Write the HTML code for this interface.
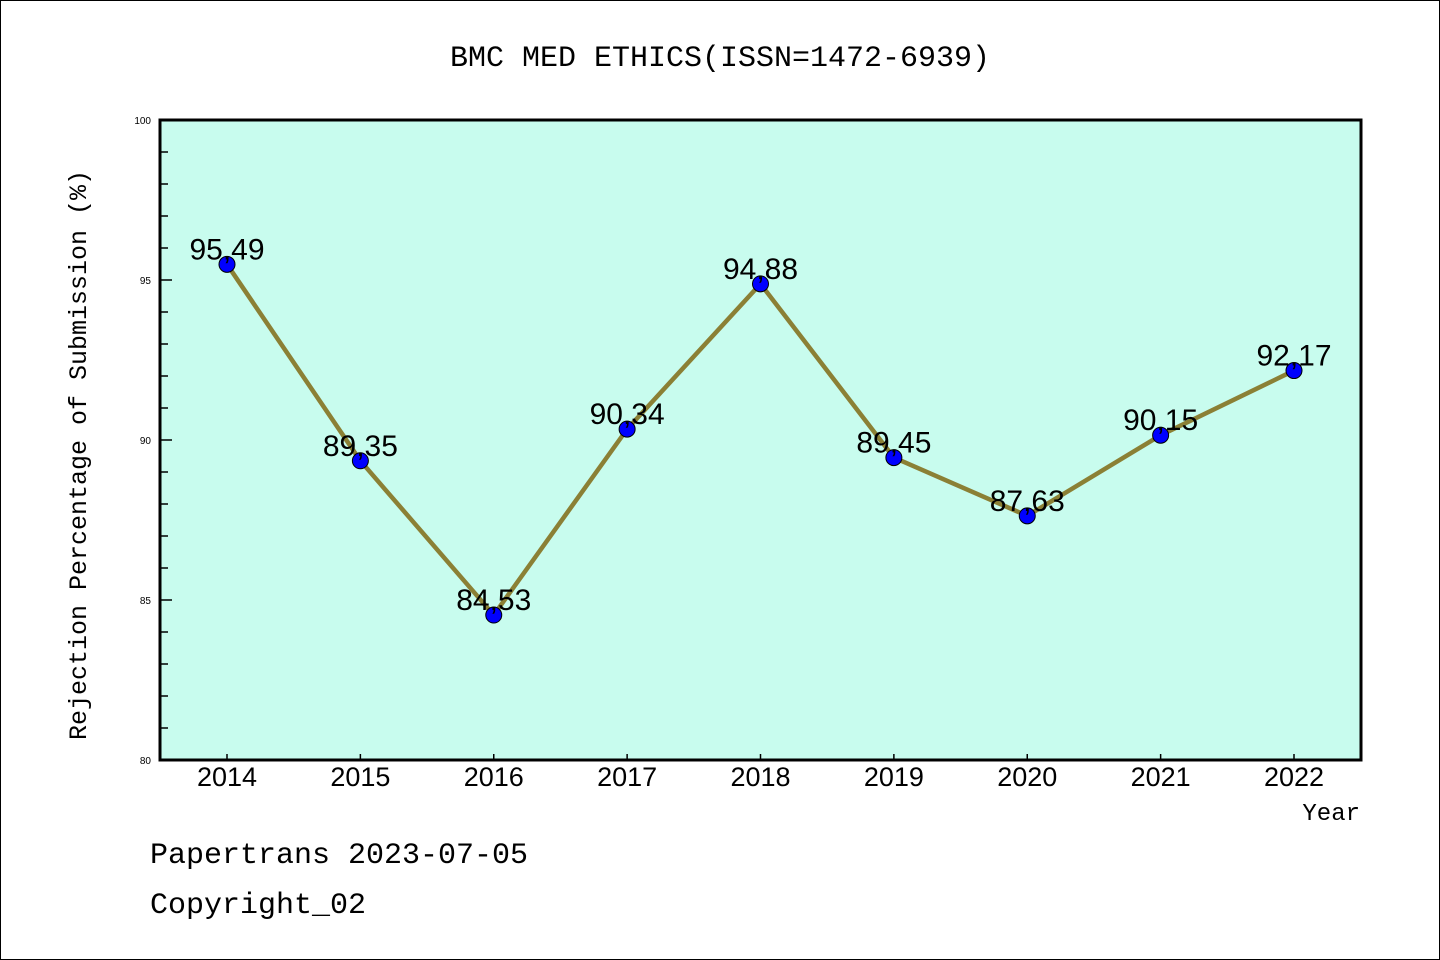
<!DOCTYPE html>
<html><head><meta charset="utf-8"><style>
html,body{margin:0;padding:0;background:#fff}
svg{display:block;font-family:"Liberation Mono","DejaVu Sans Mono",monospace}
</style></head><body>
<svg id="c" width="1440" height="960" xmlns="http://www.w3.org/2000/svg">
<rect x="0.5" y="0.5" width="1439" height="959" fill="#fff" stroke="#000"/>
<text x="720" y="66" text-anchor="middle" font-size="30">BMC MED ETHICS(ISSN=1472-6939)</text>
<rect x="160" y="120" width="1201" height="640" fill="#c8fcee"/>
<g id="axes"></g>
<g id="series"></g>
<rect x="160" y="120" width="1201" height="640" fill="none" stroke="#000" stroke-width="3"/>
<text x="86" y="455" transform="rotate(-90 86 455)" text-anchor="middle" font-size="25">Rejection Percentage of Submission (%)</text>
<text x="1360" y="820" text-anchor="end" font-size="24">Year</text>
<text x="150" y="863" font-size="30">Papertrans 2023-07-05</text>
<text x="150" y="913" font-size="30">Copyright_02</text>
</svg>
<script>
const years=["2014","2015","2016","2017","2018","2019","2020","2021","2022"];
const rates=[95.49,89.35,84.53,90.34,94.88,89.45,87.63,90.15,92.17];
const yTicks=[80,85,90,95,100];
const NS="http://www.w3.org/2000/svg";
const yMin=80,yMax=100,plotTop=120,plotBot=760;
function ys(v){return plotBot-(v-yMin)/(yMax-yMin)*(plotBot-plotTop);}
const x0=227,x1=1294;
function xs(i){return x0+i*(x1-x0)/(years.length-1);}
function mk(t,a,p){const e=document.createElementNS(NS,t);for(const k in a)e.setAttribute(k,a[k]);p.appendChild(e);return e;}
const ax=document.getElementById('axes'),sg=document.getElementById('series');
for(let v=yMin;v<=yMax;v++){
  const major=yTicks.includes(v);
  const l=mk('line',{x1:160,x2:major?172:168,y1:ys(v),y2:ys(v),stroke:'#000','stroke-width':1.5},ax);
  
  
}
yTicks.forEach(v=>{
  const t=mk('text',{x:151,y:ys(v)+4,'text-anchor':'end','font-size':10,'font-family':'Liberation Sans, sans-serif'},ax);
  t.textContent=v;
  
  
});
years.forEach((y,i)=>{
  const l=mk('line',{x1:xs(i),x2:xs(i),y1:760,y2:754,stroke:'#000','stroke-width':1.5},ax);
  
  
  const t=mk('text',{x:xs(i),y:786,'text-anchor':'middle','font-size':27,'font-family':'Liberation Sans, sans-serif'},ax);
  t.textContent=y;
  
  
});
const pl=mk('polyline',{points:rates.map((v,i)=>xs(i)+','+ys(v)).join(' '),fill:'none',stroke:'#8b8035','stroke-width':4.5},sg);


rates.forEach((v,i)=>{
  const c=mk('circle',{cx:xs(i),cy:ys(v),r:8,fill:'#0000ff',stroke:'#000','stroke-width':1},sg);
  
  
  const t=mk('text',{x:xs(i),y:ys(v)-5,'text-anchor':'middle','font-size':30,'font-family':'Liberation Sans, sans-serif'},sg);
  t.textContent=v.toFixed(2).replace('.',',');
  
  
});
</script>
</body></html>
